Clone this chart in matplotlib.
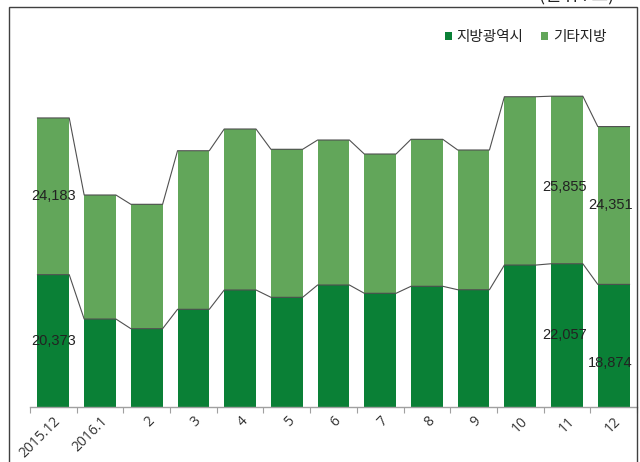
import matplotlib
matplotlib.use("Agg")
import matplotlib.pyplot as plt
from matplotlib.patches import Rectangle
import numpy as np

plt.rcParams['font.family'] = ['Noto Sans CJK KR', 'DejaVu Sans']

categories = ['2015.12', '2016.1', '2', '3', '4', '5', '6', '7', '8', '9', '10', '11', '12']
metro = [20373, 13530, 12040, 15030, 18010, 16880, 18780, 17500, 18580, 18050, 21860, 22057, 18874]
other = [24183, 19135, 19190, 24470, 24840, 22840, 22370, 21490, 22680, 21560, 25970, 25855, 24351]
series_names = ['지방광역시', '기타지방']
labeled = [0, 11, 12]

dark = '#0a8036'
light = '#62a65a'

fig = plt.figure(figsize=(6.4, 4.62), dpi=100)
W, H = 640, 462
ax = fig.add_axes([30 / W, 1 - 406.7 / H, (637 - 30) / W, (406.7 - 30) / H])

x = np.arange(len(categories))
metro = np.array(metro)
other = np.array(other)
total = metro + other
bw = 0.68

ax.bar(x, metro, width=bw, color=dark, label=series_names[0], zorder=2)
ax.bar(x, other, bottom=metro, width=bw, color=light, label=series_names[1], zorder=2)

# series lines across bar tops
for vals in (metro, total):
    xs, ys = [], []
    for i, v in enumerate(vals):
        xs += [i - bw / 2, i + bw / 2]
        ys += [v, v]
    ax.plot(xs, ys, color='#505050', lw=0.8, zorder=3)

ax.set_xlim(-0.5, len(categories) - 0.5)
ax.set_ylim(0, 58125)

# labels
lab_font = dict(family=['Liberation Sans', 'DejaVu Sans'], fontsize=10.5, color='#222222')
offsets_m = {0: 0, 11: 0, 12: -17}
offsets_o = {0: 0, 11: -7, 12: 0}
xoff = {0: 0, 11: -2, 12: -3}
for i in labeled:
    ax.annotate(f'{metro[i]:,}', (x[i], metro[i] / 2), xytext=(xoff[i], offsets_m[i]),
                textcoords='offset pixels', ha='center', va='center', zorder=5, **lab_font)
    ax.annotate(f'{other[i]:,}', (x[i], metro[i] + other[i] / 2), xytext=(xoff[i], offsets_o[i]),
                textcoords='offset pixels', ha='center', va='center', zorder=5, **lab_font)

# axes styling
for s in ['left', 'right', 'top']:
    ax.spines[s].set_visible(False)
ax.spines['bottom'].set_color('#a0a0a0')
ax.spines['bottom'].set_linewidth(1.0)
ax.set_yticks([])
ax.set_xticks(np.arange(-0.5, len(categories) + 0.5, 1.0))
ax.set_xticklabels([])
ax.tick_params(axis='x', which='major', length=4, color='#a0a0a0', direction='out')
ax.set_xticks(x, minor=True)
ax.set_xticklabels(categories, minor=True, rotation=45, ha='right', rotation_mode='anchor',
                   fontsize=10, color='#333333', family=['Open Sans', 'DejaVu Sans'])
ax.tick_params(axis='x', which='minor', length=0, pad=5)

leg = ax.legend(loc='upper right', bbox_to_anchor=(612 / W, 1 - 24 / H), bbox_transform=fig.transFigure,
                ncol=2, frameon=False, fontsize=10.5, handlelength=0.5, handleheight=0.5,
                handletextpad=0.3, columnspacing=1.2, borderaxespad=0, labelcolor='#222222')

# outer frame
fig.patches.append(Rectangle((8.5 / W, -0.05), (636.5 - 8.5) / W, 1.05 - 7.5 / H,
                             transform=fig.transFigure, fill=False, edgecolor='#404040',
                             lw=1.0, zorder=10))

fig.text(614 / W, 1 - 4 / H, '(단위 : 호)', ha='right', va='bottom', fontsize=13, color='#222222')

fig.savefig('out.png', dpi=100)
